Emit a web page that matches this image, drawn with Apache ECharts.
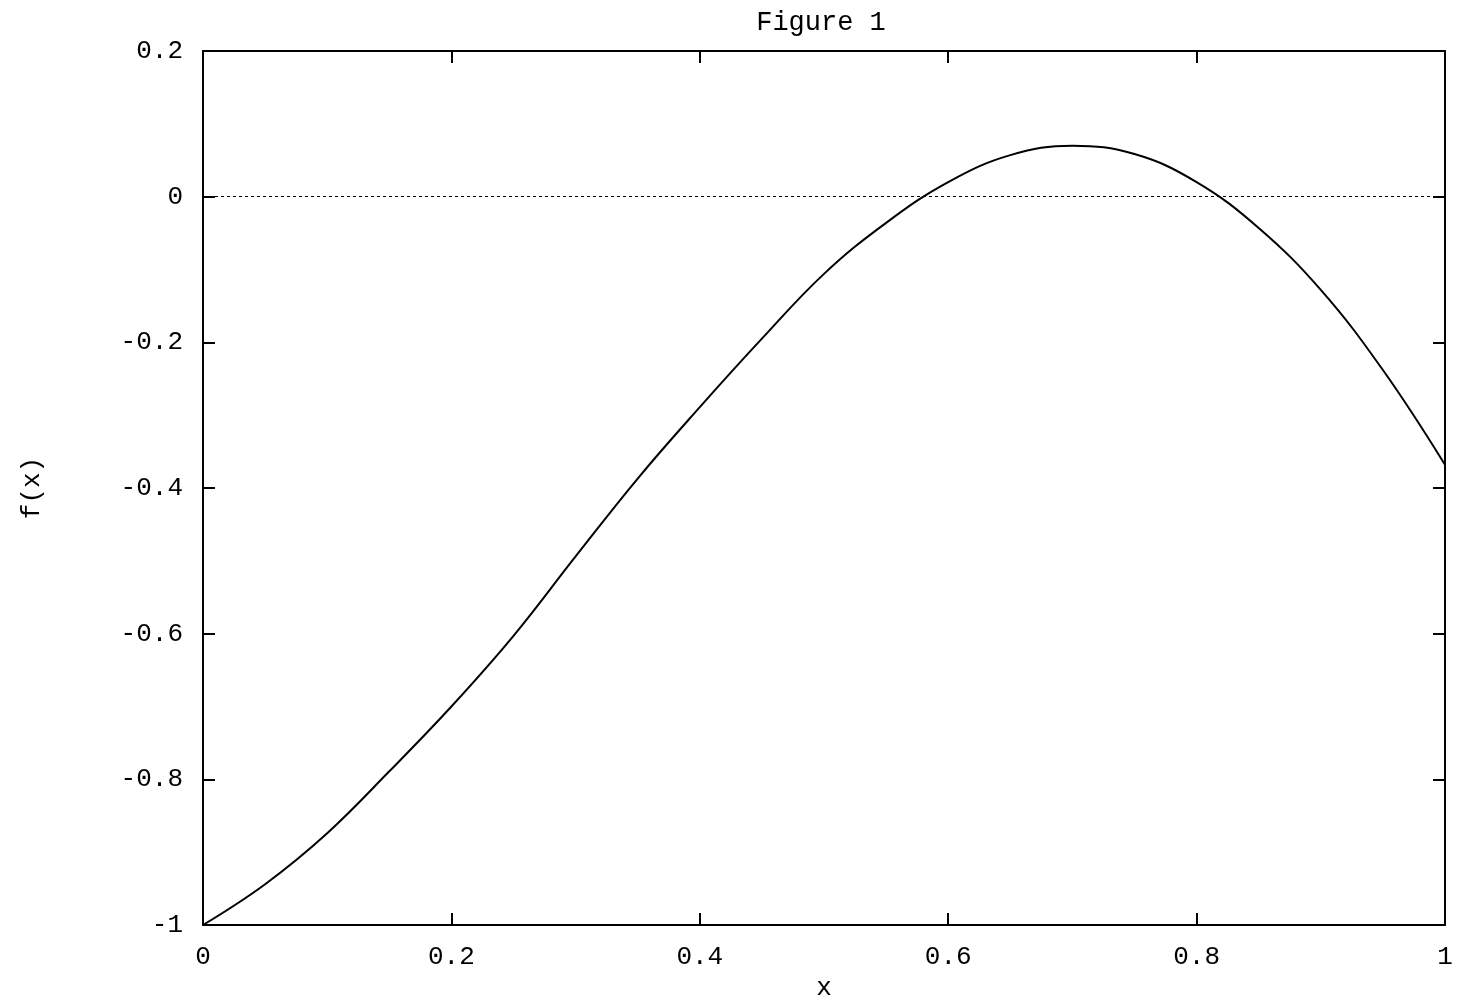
<!DOCTYPE html>
<html>
<head>
<meta charset="utf-8">
<script src="https://cdn.jsdelivr.net/npm/echarts@6/dist/echarts.min.js"></script>
<style>
html,body{margin:0;padding:0;background:#fff;}
#chart{width:1478px;height:1008px;}
</style>
</head>
<body>
<div id="chart"></div>
<script>
const xValues = [0, 0.05, 0.1, 0.15, 0.2, 0.25, 0.3, 0.35, 0.4, 0.45, 0.5, 0.55, 0.6, 0.65, 0.7, 0.75, 0.8, 0.85, 0.9, 0.95, 1.0];
const fValues = [-1.000, -0.944, -0.874, -0.789, -0.700, -0.603, -0.494, -0.387, -0.289, -0.195, -0.106, -0.036, 0.020, 0.057, 0.070, 0.0585, 0.020, -0.043, -0.128, -0.238, -0.368];
const zeroLine = 0;
const titleText = 'Figure 1';
const xName = 'x';
const yName = 'f(x)';

const FONT = 'Liberation Mono';
const FS = 26;
const fmt = v => String(parseFloat(Number(v).toFixed(1)));

const chart = echarts.init(document.getElementById('chart'), null, {renderer: 'canvas'});
const axisLine = {show: true, onZero: false, lineStyle: {color: '#000', width: 2}};
const axisTick = {show: true, inside: true, length: 12, lineStyle: {color: '#000', width: 2}};
chart.setOption({
  animation: false,
  backgroundColor: '#fff',
  graphic: [{
    type: 'text', x: 821, y: 23, silent: true,
    style: {text: titleText, fill: '#000', font: '27px "' + FONT + '"', textAlign: 'center', textVerticalAlign: 'middle'}
  }],
  grid: {left: 203, right: 33, top: 51, bottom: 83, containLabel: false},
  xAxis: [{
    type: 'value', min: 0, max: 1, interval: 0.2, position: 'bottom',
    name: xName, nameLocation: 'middle', nameGap: 50,
    nameTextStyle: {fontFamily: FONT, fontSize: FS, color: '#000'},
    axisLine: axisLine, axisTick: axisTick,
    axisLabel: {fontFamily: FONT, fontSize: FS, color: '#000', margin: 19, formatter: fmt},
    splitLine: {show: false}
  }, {
    type: 'value', min: 0, max: 1, interval: 0.2, position: 'top',
    axisLine: axisLine, axisTick: axisTick, axisLabel: {show: false}, splitLine: {show: false}
  }],
  yAxis: [{
    type: 'value', min: -1, max: 0.2, interval: 0.2, position: 'left',
    name: yName, nameLocation: 'middle', nameGap: 158,
    nameTextStyle: {fontFamily: FONT, fontSize: FS, color: '#000'},
    axisLine: axisLine, axisTick: axisTick,
    axisLabel: {fontFamily: FONT, fontSize: FS, color: '#000', margin: 20, formatter: fmt},
    splitLine: {show: false}
  }, {
    type: 'value', min: -1, max: 0.2, interval: 0.2, position: 'right',
    axisLine: axisLine, axisTick: axisTick, axisLabel: {show: false}, splitLine: {show: false}
  }],
  series: [{
    type: 'line',
    data: xValues.map((x, i) => [x, fValues[i]]),
    smooth: 0.4,
    showSymbol: false,
    lineStyle: {color: '#000', width: 2},
    markLine: {
      silent: true, symbol: 'none', label: {show: false},
      lineStyle: {color: '#000', width: 1, type: [3, 3]},
      data: [{yAxis: zeroLine}]
    }
  }]
});
</script>
</body>
</html>
